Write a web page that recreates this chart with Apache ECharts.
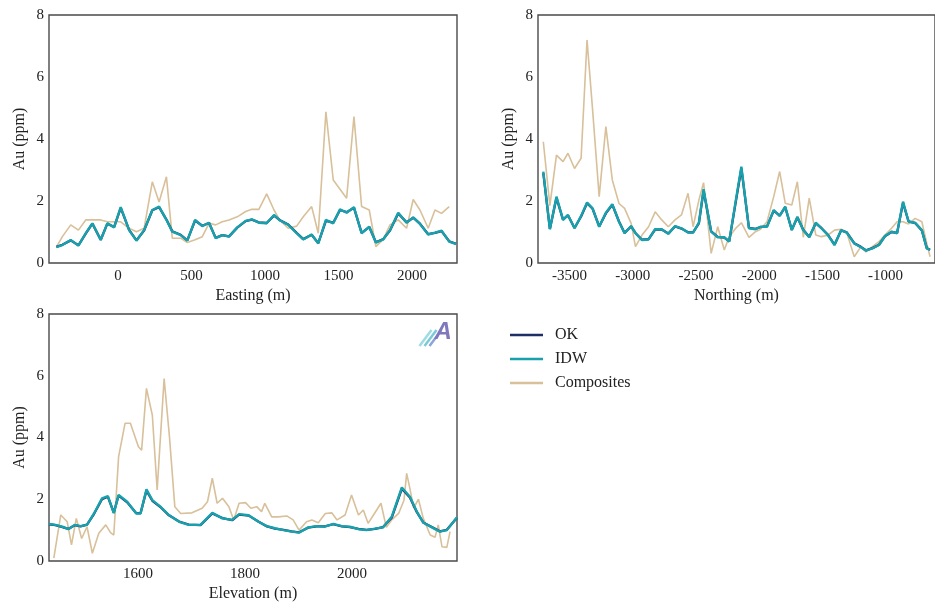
<!DOCTYPE html>
<html>
<head>
<meta charset="utf-8">
<script src="https://cdn.jsdelivr.net/npm/echarts@6/dist/echarts.min.js"></script>
<style>
  html, body { margin: 0; padding: 0; background: #fff; }
  #main { width: 935px; height: 605px; }
</style>
</head>
<body>
<div id="main"></div>
<script>
// Easting panel
const eastX = [-420, -379, -322, -270, -220, -175, -118, -73, -27, 18, 75, 125, 177, 233, 279, 329, 369, 426, 471, 524,
  573, 619, 664, 709, 755, 811, 868, 910, 958, 1011, 1061, 1102, 1158, 1215, 1260, 1317, 1362, 1414, 1464, 1510,
  1555, 1605, 1657, 1709, 1754, 1804, 1850, 1906, 1963, 2008, 2054, 2110, 2156, 2201, 2253, 2300]
const eastIdw = [0.51, 0.58, 0.74, 0.56, 0.96, 1.28, 0.74, 1.28, 1.15, 1.80, 1.06, 0.72, 1.06, 1.71, 1.82, 1.39, 1.01, 0.90, 0.72, 1.39,
  1.19, 1.30, 0.80, 0.90, 0.85, 1.15, 1.36, 1.41, 1.30, 1.28, 1.55, 1.37, 1.23, 0.96, 0.76, 0.92, 0.63, 1.39, 1.28, 1.73,
  1.62, 1.80, 0.96, 1.17, 0.66, 0.76, 1.06, 1.62, 1.30, 1.47, 1.26, 0.92, 0.98, 1.04, 0.69, 0.61]
const eastOk = [0.52, 0.59, 0.73, 0.57, 0.95, 1.27, 0.75, 1.27, 1.16, 1.78, 1.07, 0.73, 1.05, 1.70, 1.80, 1.40, 1.02, 0.91, 0.73, 1.37,
  1.20, 1.29, 0.81, 0.90, 0.86, 1.14, 1.35, 1.40, 1.31, 1.29, 1.53, 1.38, 1.24, 0.97, 0.77, 0.91, 0.64, 1.36, 1.30, 1.71,
  1.64, 1.78, 0.97, 1.16, 0.67, 0.77, 1.05, 1.60, 1.31, 1.46, 1.27, 0.93, 0.97, 1.03, 0.70, 0.62]
const eastComp = [0.51, 0.85, 1.23, 1.06, 1.39, 1.39, 1.39, 1.33, 1.33, 1.33, 1.12, 1.01, 1.12, 2.62, 1.97, 2.78, 0.80, 0.80, 0.66, 0.75,
  0.85, 1.28, 1.23, 1.33, 1.39, 1.49, 1.66, 1.73, 1.73, 2.23, 1.71, 1.37, 1.12, 1.19, 1.49, 1.82, 0.96, 4.88, 2.68, 2.38,
  2.09, 4.72, 1.82, 1.71, 0.53, 0.76, 1.23, 1.39, 1.12, 2.05, 1.71, 1.12, 1.71, 1.60, 1.82, null]
const eastTicks = [0, 500, 1000, 1500, 2000]

// Northing panel
const northX = [-3708, -3656, -3604, -3552, -3513, -3461, -3409, -3362, -3318, -3266, -3213, -3162, -3109, -3065, -3013, -2979,
  -2927, -2875, -2823, -2771, -2719, -2666, -2615, -2563, -2523, -2477, -2440, -2380, -2328, -2276, -2237, -2190,
  -2141, -2081, -2029, -1990, -1938, -1885, -1838, -1794, -1742, -1698, -1651, -1604, -1552, -1508, -1456, -1404,
  -1352, -1307, -1248, -1195, -1156, -1104, -1052, -1005, -953, -909, -862, -818, -766, -713, -674, -648]
const northIdw = [2.95, 1.09, 2.14, 1.39, 1.55, 1.12, 1.52, 1.95, 1.76, 1.17, 1.62, 1.90, 1.33, 0.96, 1.19, 0.96,
  0.74, 0.76, 1.09, 1.09, 0.94, 1.19, 1.12, 0.98, 0.98, 1.30, 2.38, 1.01, 0.83, 0.83, 0.69, 1.90,
  3.11, 1.12, 1.09, 1.17, 1.17, 1.71, 1.52, 1.82, 1.06, 1.49, 1.06, 0.83, 1.30, 1.12, 0.90, 0.58,
  1.06, 0.98, 0.63, 0.51, 0.40, 0.47, 0.58, 0.87, 1.01, 0.96, 1.98, 1.33, 1.30, 1.06, 0.47, 0.42]
const northOk = [2.90, 1.10, 2.10, 1.40, 1.54, 1.13, 1.50, 1.93, 1.75, 1.18, 1.60, 1.88, 1.34, 0.97, 1.18, 0.97,
  0.75, 0.77, 1.08, 1.08, 0.95, 1.18, 1.11, 0.99, 0.99, 1.28, 2.33, 1.02, 0.84, 0.82, 0.70, 1.85,
  3.05, 1.13, 1.10, 1.16, 1.18, 1.69, 1.53, 1.80, 1.07, 1.47, 1.07, 0.84, 1.28, 1.13, 0.91, 0.59,
  1.05, 0.99, 0.64, 0.52, 0.41, 0.48, 0.59, 0.86, 1.00, 0.97, 1.94, 1.34, 1.29, 1.05, 0.48, 0.43]
const northComp = [3.91, 1.85, 3.48, 3.27, 3.54, 3.05, 3.38, 7.19, 4.94, 2.14, 4.40, 2.68, 1.92, 1.76, 1.28, 0.53,
  0.90, 1.17, 1.65, 1.39, 1.17, 1.39, 1.55, 2.25, 1.17, 2.03, 2.59, 0.31, 1.17, 0.42, 0.85, 1.10,
  1.30, 0.83, 1.01, 1.09, 1.33, 2.14, 2.95, 1.93, 1.87, 2.62, 0.83, 2.09, 0.90, 0.85, 0.90, 1.06,
  1.09, 0.98, 0.20, 0.53, 0.36, 0.53, 0.69, 0.90, 1.12, 1.33, 1.33, 1.26, 1.44, 1.33, 0.63, 0.20]
const northTicks = [-3500, -3000, -2500, -2000, -1500, -1000]

// Elevation panel
const elevX = [1434, 1446, 1459, 1470, 1482, 1493, 1505, 1518, 1533, 1544, 1555, 1564, 1580, 1597, 1605, 1616, 1627,
  1642, 1658, 1677, 1695, 1717, 1739, 1758, 1776, 1789, 1807, 1825, 1841, 1856, 1872, 1887, 1901, 1918, 1934,
  1949, 1965, 1981, 1996, 2012, 2027, 2043, 2058, 2074, 2093, 2108, 2121, 2133, 2149, 2164, 2177, 2196]
const elevIdw = [1.20, 1.17, 1.11, 1.03, 1.17, 1.13, 1.17, 1.54, 2.03, 2.10, 1.55, 2.14, 1.92, 1.54, 1.54, 2.32, 1.97,
  1.76, 1.49, 1.27, 1.17, 1.17, 1.56, 1.38, 1.33, 1.52, 1.48, 1.27, 1.13, 1.06, 1.00, 0.95, 0.92, 1.09, 1.13,
  1.11, 1.20, 1.13, 1.11, 1.03, 1.00, 1.05, 1.09, 1.43, 2.38, 2.08, 1.60, 1.24, 1.09, 0.95, 1.00, 1.42]
const elevOk = [1.19, 1.16, 1.10, 1.04, 1.16, 1.12, 1.18, 1.52, 2.00, 2.08, 1.57, 2.12, 1.90, 1.55, 1.55, 2.28, 1.95,
  1.75, 1.48, 1.28, 1.18, 1.16, 1.54, 1.39, 1.32, 1.50, 1.47, 1.28, 1.12, 1.05, 1.01, 0.96, 0.93, 1.08, 1.12,
  1.12, 1.19, 1.12, 1.10, 1.04, 1.01, 1.04, 1.10, 1.40, 2.34, 2.06, 1.58, 1.25, 1.10, 0.96, 1.01, 1.40]
const elevCompX = [1443, 1456, 1468, 1476, 1485, 1495, 1505, 1515, 1527, 1540, 1549, 1555, 1564, 1576, 1586, 1601, 1607,
  1616, 1627, 1636, 1649, 1659, 1669, 1680, 1701, 1720, 1730, 1739, 1748, 1758, 1770, 1779, 1789, 1801, 1811,
  1822, 1831, 1837, 1850, 1862, 1878, 1890, 1901, 1915, 1925, 1937, 1950, 1962, 1972, 1987, 1999, 2012, 2021,
  2030, 2040, 2054, 2064, 2074, 2087, 2097, 2102, 2108, 2115, 2124, 2133, 2146, 2155, 2161, 2168, 2177, 2183]
const elevComp = [0.09, 1.49, 1.27, 0.52, 1.38, 0.73, 1.11, 0.25, 0.90, 1.17, 0.92, 0.84, 3.38, 4.46, 4.46, 3.70, 3.59,
  5.59, 4.72, 2.30, 5.91, 4.02, 1.76, 1.54, 1.56, 1.71, 1.92, 2.68, 1.87, 2.03, 1.76, 1.33, 1.87, 1.89, 1.71,
  1.76, 1.60, 1.87, 1.43, 1.43, 1.46, 1.33, 1.00, 1.27, 1.33, 1.24, 1.54, 1.56, 1.33, 1.49, 2.14, 1.49, 1.65,
  1.22, 1.49, 1.87, 1.09, 1.33, 1.54, 1.97, 2.84, 2.35, 1.71, 2.00, 1.38, 0.84, 0.77, 1.17, 0.46, 0.44, 0.95]
const elevTicks = [1600, 1800, 2000]

const yTicks = [0, 2, 4, 6, 8]

const FONT = 'Liberation Serif'
const okColor = '#1d2f66'
const idwColor = '#19a0ad'
const compColor = '#d8c09a'

function pairs(xs, ys) {
  return xs.map((x, i) => [x, ys[i]]).filter((p) => p[1] !== null)
}

function xAxisFor(index, min, max, name, ticks) {
  return {
    type: 'value',
    gridIndex: index,
    min: min,
    max: max,
    name: name,
    nameLocation: 'middle',
    nameGap: 25,
    nameTextStyle: { fontFamily: FONT, fontSize: 16, color: '#222' },
    axisLine: { show: false },
    axisTick: { show: false },
    splitLine: { show: false },
    axisLabel: {
      customValues: ticks,
      formatter: (v) => String(v),
      fontFamily: FONT, fontSize: 15, color: '#222', margin: 6
    }
  }
}

function yAxisFor(index) {
  return {
    type: 'value',
    gridIndex: index,
    min: 0,
    max: 8,
    interval: 2,
    name: 'Au (ppm)',
    nameLocation: 'middle',
    nameGap: 21,
    nameTextStyle: { fontFamily: FONT, fontSize: 16, color: '#222' },
    axisLine: { show: false },
    axisTick: { show: false },
    splitLine: { show: false },
    axisLabel: { customValues: yTicks, fontFamily: FONT, fontSize: 15, color: '#222', margin: 5 }
  }
}

function seriesFor(index, xs, ok, idw, compX, comp) {
  return [
    { name: 'Composites', type: 'line', xAxisIndex: index, yAxisIndex: index, symbol: 'none',
      lineStyle: { color: compColor, width: 1.6 }, itemStyle: { color: compColor }, data: pairs(compX, comp) },
    { name: 'OK', type: 'line', xAxisIndex: index, yAxisIndex: index, symbol: 'none',
      lineStyle: { color: okColor, width: 2.3 }, itemStyle: { color: okColor }, data: pairs(xs, ok) },
    { name: 'IDW', type: 'line', xAxisIndex: index, yAxisIndex: index, symbol: 'none',
      lineStyle: { color: idwColor, width: 2.4 }, itemStyle: { color: idwColor }, data: pairs(xs, idw) }
  ]
}

const myChart = echarts.init(document.getElementById('main'))

const gridStyle = { show: true, borderColor: '#4a4a4a', borderWidth: 1.4, backgroundColor: 'transparent' }

const option = {
  animation: false,
  legend: {
    data: ['OK', 'IDW', 'Composites'],
    orient: 'vertical',
    left: 505,
    top: 322,
    icon: 'rect',
    itemWidth: 33,
    itemHeight: 2.5,
    itemGap: 8,
    textStyle: { fontFamily: FONT, fontSize: 16, lineHeight: 16, color: '#222', padding: [0, 0, 0, 7] }
  },
  grid: [
    Object.assign({ left: 49, top: 15, width: 408, height: 248 }, gridStyle),
    Object.assign({ left: 538, top: 15, width: 402, height: 248 }, gridStyle),
    Object.assign({ left: 49, top: 314, width: 408, height: 247 }, gridStyle)
  ],
  xAxis: [
    xAxisFor(0, -470, 2306, 'Easting (m)', eastTicks),
    xAxisFor(1, -3750, -609, 'Northing (m)', northTicks),
    xAxisFor(2, 1434, 2196, 'Elevation (m)', elevTicks)
  ],
  yAxis: [yAxisFor(0), yAxisFor(1), yAxisFor(2)],
  series: [
    ...seriesFor(0, eastX, eastOk, eastIdw, eastX, eastComp),
    ...seriesFor(1, northX, northOk, northIdw, northX, northComp),
    ...seriesFor(2, elevX, elevOk, elevIdw, elevCompX, elevComp)
  ],
  graphic: [
    {
      type: 'group',
      left: 417,
      top: 320,
      children: [
        { type: 'line', shape: { x1: 0, y1: 24, x2: 12, y2: 8 }, style: { stroke: '#9fdbe3', lineWidth: 2.5 } },
        { type: 'line', shape: { x1: 5, y1: 24, x2: 17, y2: 8 }, style: { stroke: '#7ccad8', lineWidth: 2.5 } },
        { type: 'line', shape: { x1: 10, y1: 24, x2: 22, y2: 8 }, style: { stroke: '#8aa6d6', lineWidth: 2.5 } },
        { type: 'text', left: 15, top: -2, style: { text: 'A', font: 'italic bold 24px "Liberation Sans"', fill: '#8078bc' } }
      ]
    }
  ]
}

myChart.setOption(option)
</script>
</body>
</html>
